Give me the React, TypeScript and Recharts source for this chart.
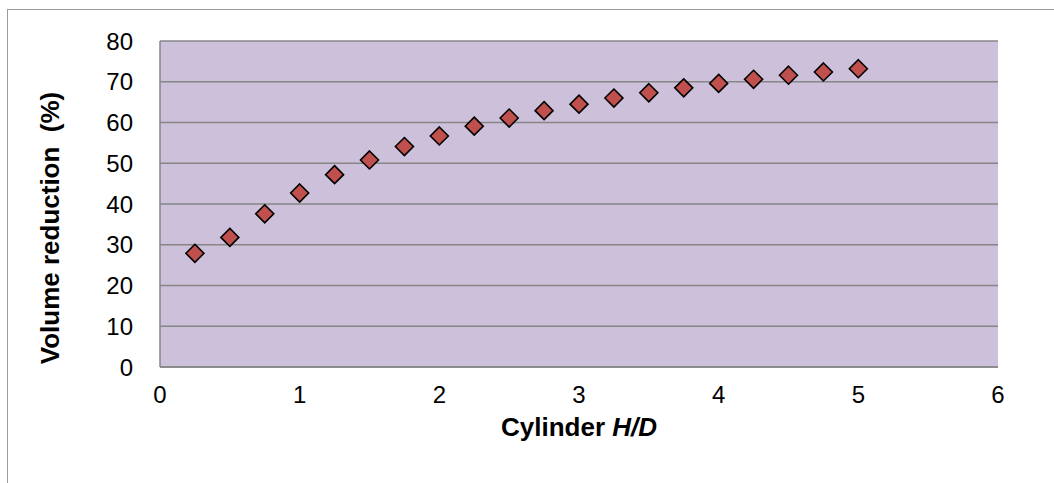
import { CartesianGrid, Label, Scatter, ScatterChart, XAxis, YAxis } from "recharts";

const hdRatio = [0.25, 0.5, 0.75, 1, 1.25, 1.5, 1.75, 2, 2.25, 2.5, 2.75, 3, 3.25, 3.5, 3.75, 4, 4.25, 4.5, 4.75, 5];
const volumeReduction = [27.9, 31.8, 37.6, 42.7, 47.2, 50.8, 54.1, 56.7, 59.1, 61.1, 62.9, 64.5, 66.0, 67.3, 68.5, 69.6, 70.6, 71.6, 72.4, 73.2];
const xTicks = [0, 1, 2, 3, 4, 5, 6];
const yTicks = [0, 10, 20, 30, 40, 50, 60, 70, 80];

const points = hdRatio.map((hd, i) => ({ hd, vr: volumeReduction[i] }));

const font = "'Liberation Sans', Arial, sans-serif";

const Diamond = (props: any) => {
  const { cx, cy } = props;
  const r = 9;
  return (
    <polygon
      points={`${cx},${cy - r} ${cx + r},${cy} ${cx},${cy + r} ${cx - r},${cy}`}
      fill="#C0504D"
      stroke="#000"
      strokeWidth={1.6}
    />
  );
};

export default function App() {
  return (
    <div style={{ position: "absolute", left: 0, top: 0, width: 1054, height: 483, overflow: "hidden", background: "#fff" }}>
      <div
        style={{
          position: "absolute",
          left: 7,
          top: 9,
          width: 1100,
          height: 600,
          border: "1px solid #9a9a9a"
        }}
      />
      <div style={{ position: "absolute", left: 0, top: 0 }}>
        <ScatterChart width={1054} height={483} margin={{ top: 41, right: 56, bottom: 36, left: 60 }}>
          <CartesianGrid vertical={false} stroke="#868686" strokeWidth={1.5} fill="#CCC0DA" />
          <XAxis
            type="number"
            dataKey="hd"
            domain={[0, 6]}
            ticks={xTicks}
            height={80}
            tickLine={false}
            tickSize={0}
            tickMargin={19}
            axisLine={{ stroke: "#868686", strokeWidth: 1.5 }}
            tick={{ fill: "#000", fontSize: 24, fontFamily: font }}
          >
            <Label
              content={() => (
                <text x={579} y={436} textAnchor="middle" fontFamily={font} fontSize={26} fontWeight="bold" fill="#000">
                  Cylinder <tspan fontStyle="italic">H/D</tspan>
                </text>
              )}
            />
          </XAxis>
          <YAxis
            type="number"
            dataKey="vr"
            domain={[0, 80]}
            ticks={yTicks}
            width={100}
            tickLine={false}
            tickSize={0}
            tickMargin={27}
            axisLine={{ stroke: "#868686", strokeWidth: 1.5 }}
            tick={{ fill: "#000", fontSize: 24, fontFamily: font }}
          >
            <Label
              content={() => (
                <text
                  x={50}
                  y={228}
                  transform="rotate(-90, 50, 228)"
                  textAnchor="middle"
                  dominantBaseline="central"
                  fontFamily={font}
                  fontSize={26}
                  fontWeight="bold"
                  fill="#000"
                  style={{ whiteSpace: "pre" }}
                >
                  {"Volume reduction  (%)"}
                </text>
              )}
            />
          </YAxis>
          <Scatter data={points} shape={<Diamond />} isAnimationActive={false} />
        </ScatterChart>
      </div>
    </div>
  );
}
